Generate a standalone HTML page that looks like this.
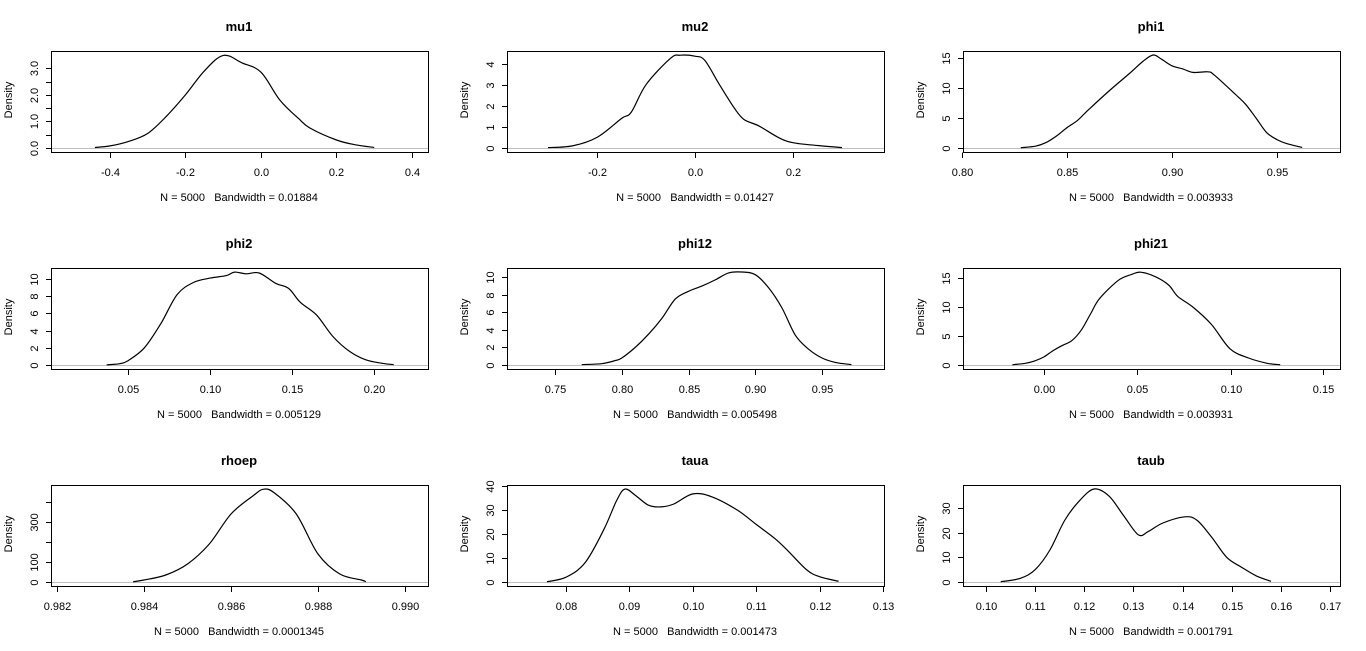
<!DOCTYPE html>
<html><head><meta charset="utf-8"><style>
html,body{margin:0;padding:0;background:#fff;}
svg{display:block;font-family:"Liberation Sans",Arial,sans-serif;}
</style></head><body>
<svg id="s" width="1366" height="651" xmlns="http://www.w3.org/2000/svg"></svg>
<script>
const P=[
{t:"mu1",c:0,r:0,xt:[[-0.4,110],[-0.2,185],[0,261],[0.2,336],[0.4,412]],xl:["-0.4","-0.2","0.0","0.2","0.4"],
 yk:26.6, yt:[0,0.5,1,1.5,2,2.5,3],yl:{0:"0.0",1:"1.0",2:"2.0",3:"3.0"},bw:"0.01884",
 d:[[-0.44,0.02],[-0.4,0.08],[-0.35,0.25],[-0.3,0.55],[-0.25,1.2],[-0.2,2.0],[-0.15,2.9],[-0.1,3.48],[-0.05,3.2],[0,2.85],[0.05,1.8],[0.1,1.1],[0.13,0.75],[0.2,0.3],[0.25,0.12],[0.3,0.02]]},
{t:"mu2",c:1,r:0,xt:[[-0.2,597],[0,695],[0.2,793]],xl:["-0.2","0.0","0.2"],
 yk:21.1,yt:[0,1,2,3,4],yl:{0:"0",1:"1",2:"2",3:"3",4:"4"},bw:"0.01427",
 d:[[-0.3,0.02],[-0.25,0.1],[-0.2,0.5],[-0.15,1.4],[-0.13,1.7],[-0.1,3.0],[-0.05,4.25],[-0.03,4.4],[0,4.35],[0.02,4.15],[0.05,3.0],[0.08,1.9],[0.1,1.35],[0.13,1.05],[0.17,0.5],[0.2,0.25],[0.25,0.12],[0.3,0.02]]},
{t:"phi1",c:2,r:0,xt:[[0.80,962],[0.85,1067],[0.90,1172],[0.95,1277]],xl:["0.80","0.85","0.90","0.95"],
 yk:6.0,yt:[0,5,10,15],yl:{0:"0",5:"5",10:"10",15:"15"},bw:"0.003933",
 d:[[0.828,0.05],[0.835,0.3],[0.84,0.9],[0.845,2],[0.85,3.4],[0.855,4.6],[0.86,6.3],[0.87,9.5],[0.88,12.5],[0.886,14.4],[0.891,15.5],[0.895,14.8],[0.9,13.7],[0.905,13.2],[0.91,12.6],[0.917,12.7],[0.92,12.2],[0.93,9],[0.935,7.3],[0.94,5],[0.945,2.6],[0.95,1.4],[0.955,0.7],[0.962,0.1]]},
{t:"phi2",c:0,r:1,xt:[[0.05,128],[0.10,210],[0.15,292],[0.20,374]],xl:["0.05","0.10","0.15","0.20"],
 yk:8.6,yt:[0,2,4,6,8,10],yl:{0:"0",2:"2",4:"4",6:"6",8:"8",10:"10"},bw:"0.005129",
 d:[[0.037,0.02],[0.045,0.15],[0.05,0.5],[0.06,2],[0.07,4.8],[0.08,8.2],[0.09,9.6],[0.10,10.1],[0.11,10.4],[0.115,10.8],[0.122,10.6],[0.13,10.7],[0.14,9.5],[0.148,8.9],[0.155,7.3],[0.165,5.8],[0.175,3.3],[0.185,1.6],[0.195,0.6],[0.205,0.2],[0.212,0.05]]},
{t:"phi12",c:1,r:1,xt:[[0.75,555],[0.80,622],[0.85,689],[0.90,755],[0.95,822]],xl:["0.75","0.80","0.85","0.90","0.95"],
 yk:8.77,yt:[0,2,4,6,8,10],yl:{0:"0",2:"2",4:"4",6:"6",8:"8",10:"10"},bw:"0.005498",
 d:[[0.77,0.05],[0.785,0.15],[0.795,0.5],[0.80,0.8],[0.81,2],[0.82,3.5],[0.83,5.3],[0.84,7.5],[0.85,8.4],[0.86,9],[0.87,9.7],[0.88,10.5],[0.89,10.6],[0.90,10.3],[0.91,8.8],[0.92,6.5],[0.93,3.4],[0.94,1.8],[0.95,0.8],[0.96,0.3],[0.972,0.05]]},
{t:"phi21",c:2,r:1,xt:[[0,1044],[0.05,1137],[0.10,1231],[0.15,1323]],xl:["0.00","0.05","0.10","0.15"],
 yk:5.8,yt:[0,5,10,15],yl:{0:"0",5:"5",10:"10",15:"15"},bw:"0.003931",
 d:[[-0.017,0.05],[-0.01,0.3],[-0.005,0.7],[0,1.4],[0.005,2.5],[0.01,3.4],[0.015,4.2],[0.02,6],[0.025,8.8],[0.03,11.5],[0.04,14.6],[0.047,15.6],[0.052,16],[0.06,15.2],[0.067,13.8],[0.072,11.8],[0.08,10],[0.09,7],[0.1,2.8],[0.11,1.2],[0.12,0.3],[0.127,0.05]]},
{t:"rhoep",c:0,r:2,xt:[[0.982,57],[0.984,144],[0.986,231],[0.988,318],[0.990,405]],xl:["0.982","0.984","0.986","0.988","0.990"],
 yk:0.2,yt:[0,100,200,300,400],yl:{0:"0",100:"100",300:"300"},bw:"0.0001345",
 d:[[0.98375,1],[0.984,10],[0.9845,35],[0.985,90],[0.9855,190],[0.986,340],[0.9865,430],[0.98675,464],[0.987,445],[0.9875,340],[0.988,140],[0.9885,40],[0.989,10],[0.9891,1]]},
{t:"taua",c:1,r:2,xt:[[0.08,566],[0.09,629],[0.10,693],[0.11,756],[0.12,820],[0.13,883]],xl:["0.08","0.09","0.10","0.11","0.12","0.13"],
 yk:2.4,yt:[0,10,20,30,40],yl:{0:"0",10:"10",20:"20",30:"30",40:"40"},bw:"0.001473",
 d:[[0.077,0.1],[0.08,2],[0.083,8],[0.086,22],[0.088,34],[0.0893,38.7],[0.091,36],[0.093,32],[0.095,31.3],[0.097,32.5],[0.1,36.7],[0.103,35.5],[0.107,30],[0.11,24],[0.113,18],[0.115,13],[0.118,5],[0.12,2.2],[0.123,0.3]]},
{t:"taub",c:2,r:2,xt:[[0.10,986],[0.11,1035],[0.12,1084],[0.13,1133],[0.14,1183],[0.15,1232],[0.16,1281],[0.17,1330]],xl:["0.10","0.11","0.12","0.13","0.14","0.15","0.16","0.17"],
 yk:2.46,yt:[0,10,20,30],yl:{0:"0",10:"10",20:"20",30:"30"},bw:"0.001791",
 d:[[0.103,0.1],[0.107,1.5],[0.11,5],[0.113,13],[0.116,25],[0.119,33],[0.122,37.8],[0.125,35],[0.128,27],[0.131,19.2],[0.133,20.5],[0.136,24],[0.1405,26.5],[0.143,25],[0.146,18],[0.149,10],[0.152,6],[0.155,2.5],[0.158,0.3]]}
];
const colL=[51,507,963], rowT=[0,217,434];
let h="";
for(const p of P){
 const L=colL[p.c], R=L+377, o=rowT[p.r], T=o+51, B=o+152, Z=o+148;
 const a=p.xt[0], b=p.xt[p.xt.length-1];
 const fx=v=>a[1]+(v-a[0])*(b[1]-a[1])/(b[0]-a[0]);
 const fy=v=>Z-v*p.yk;
 h+=`<rect x="${L+.5}" y="${T+.5}" width="377" height="101" fill="none" stroke="#000" stroke-width="1"/>`;
 h+=`<line x1="${L+1}" x2="${R}" y1="${Z+.5}" y2="${Z+.5}" stroke="#bebebe" stroke-width="1"/>`;
 const pts=p.d.map(q=>[fx(q[0]),fy(q[1])]);
 let d=`M${pts[0][0]},${pts[0][1]}`;
 for(let i=0;i<pts.length-1;i++){
  const p0=pts[i-1]||pts[i],p1=pts[i],p2=pts[i+1],p3=pts[i+2]||pts[i+1];
  const c1=[p1[0]+(p2[0]-p0[0])/6,p1[1]+(p2[1]-p0[1])/6];
  const c2=[p2[0]-(p3[0]-p1[0])/6,p2[1]-(p3[1]-p1[1])/6];
  d+=` C${c1[0].toFixed(1)},${c1[1].toFixed(1)} ${c2[0].toFixed(1)},${c2[1].toFixed(1)} ${p2[0].toFixed(1)},${p2[1].toFixed(1)}`;
 }
 h+=`<path d="${d}" fill="none" stroke="#000" stroke-width="1.2"/>`;
 p.xt.forEach((t,i)=>{
  h+=`<line x1="${t[1]+.5}" x2="${t[1]+.5}" y1="${B+.5}" y2="${B+6}" stroke="#000"/>`;
  h+=`<text x="${t[1]+.5}" y="${o+176}" font-size="11" text-anchor="middle">${p.xl[i]}</text>`;
 });
 p.yt.forEach(v=>{
  const y=Math.round(fy(v))+.5;
  h+=`<line x1="${L-5}" x2="${L+.5}" y1="${y}" y2="${y}" stroke="#000"/>`;
  if(p.yl[v]!==undefined) h+=`<text transform="translate(${L-13},${y}) rotate(-90)" font-size="11" text-anchor="middle">${p.yl[v]}</text>`;
 });
 h+=`<text transform="translate(${L-39},${o+100}) rotate(-90)" font-size="11" text-anchor="middle">Density</text>`;
 h+=`<text x="${L+188}" y="${o+31}" font-size="13" font-weight="bold" text-anchor="middle">${p.t}</text>`;
 h+=`<text x="${L+188}" y="${o+201}" font-size="11" text-anchor="middle" xml:space="preserve">N = 5000   Bandwidth = ${p.bw}</text>`;
}
document.getElementById("s").innerHTML=h;
</script>
</body></html>
